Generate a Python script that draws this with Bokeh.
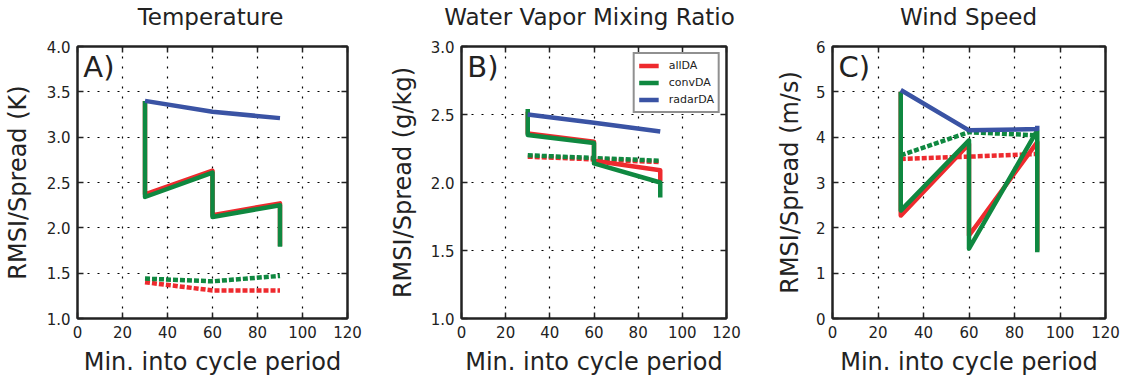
from bokeh.plotting import figure
from bokeh.layouts import row, column
from bokeh.models import (FixedTicker, PrintfTickFormatter, LinearAxis, Legend,
                          LegendItem, Range1d, Div)
from bokeh.embed import file_html
from bokeh.resources import INLINE

# ---------------- data ----------------
x_solid = [30, 30, 60, 60, 90, 90]
x_dot = [30, 60, 90]
x_ticks = [0, 20, 40, 60, 80, 100, 120]

temp_all = [3.40, 2.37, 2.63, 2.14, 2.27, 1.80]
temp_conv = [3.40, 2.34, 2.61, 2.12, 2.25, 1.79]
temp_radar = [3.40, 3.40, 3.28, 3.28, 3.21, 3.21]
temp_all_spread = [1.40, 1.31, 1.31]
temp_conv_spread = [1.44, 1.41, 1.47]
temp_yticks = [1.0, 1.5, 2.0, 2.5, 3.0, 3.5, 4.0]

qv_all = [2.52, 2.36, 2.30, 2.16, 2.09, 2.01]
qv_conv = [2.54, 2.35, 2.29, 2.14, 2.00, 1.89]
qv_radar = [2.50, 2.50, 2.44, 2.44, 2.375, 2.375]
qv_all_spread = [2.19, 2.17, 2.15]
qv_conv_spread = [2.20, 2.18, 2.16]
qv_yticks = [1.0, 1.5, 2.0, 2.5, 3.0]

ws_all = [5.00, 2.27, 3.85, 1.83, 3.89, 1.50]
ws_conv = [5.00, 2.38, 3.93, 1.54, 4.15, 1.46]
ws_radar = [5.04, 5.04, 4.15, 4.15, 4.18, 4.25]
ws_all_spread = [3.52, 3.57, 3.63]
ws_conv_spread = [3.60, 4.11, 4.04]
ws_yticks = [0, 1, 2, 3, 4, 5, 6]

series_names = ["allDA", "convDA", "radarDA"]

RED = "#ee2a2e"
GREEN = "#0f8840"
BLUE = "#3a53a4"
INK = "#222222"
FONT = "DejaVu Sans"
TITLE_H = 36
FRAME_W = 273


def style_axis(ax, ticks, fmt, show_labels=True):
    ax.ticker = FixedTicker(ticks=ticks)
    ax.formatter = PrintfTickFormatter(format=fmt)
    ax.axis_line_color = INK
    ax.axis_line_width = 2
    ax.major_tick_in = 6
    ax.major_tick_out = 0
    ax.major_tick_line_color = INK
    ax.major_tick_line_width = 1.5
    ax.minor_tick_line_color = None
    ax.major_label_text_font = FONT
    ax.major_label_text_color = INK
    ax.major_label_text_font_size = "15px"
    if show_labels:
        ax.major_label_standoff = 7
    else:
        ax.major_label_overrides = {t: "" for t in ticks}
        ax.major_label_standoff = 0


def title_strip(title, bl, width):
    shift = bl + FRAME_W / 2 - width / 2
    html = (
        f'<div style="position:relative; left:{shift:.1f}px; width:{width}px; '
        f"text-align:center; white-space:nowrap; font-family:'{FONT}'; "
        f'font-size:23px; line-height:35px; color:{INK};">{title}</div>'
    )
    return Div(text=html, width=width, height=TITLE_H, margin=0)


def panel(ylabel, ylim, yticks, yfmt, all_s, conv_s, radar_s,
          all_sp, conv_sp, letter, bl, br, width, ylab_standoff, legend=False):
    p = figure(width=width, height=379 - TITLE_H, output_backend="svg",
               toolbar_location=None, x_range=Range1d(0, 120),
               y_range=Range1d(*ylim), min_border_left=bl,
               min_border_right=br, min_border_top=46 - TITLE_H,
               min_border_bottom=61)
    p.outline_line_color = INK
    p.outline_line_width = 2
    p.background_fill_color = "white"
    p.border_fill_color = "white"

    style_axis(p.xaxis[0], x_ticks, "%d")
    style_axis(p.yaxis[0], yticks, yfmt)
    p.xaxis[0].axis_label = "Min. into cycle period"
    p.yaxis[0].axis_label = ylabel
    for ax in (p.xaxis[0], p.yaxis[0]):
        ax.axis_label_text_font = FONT
        ax.axis_label_text_font_size = "24px"
        ax.axis_label_text_font_style = "normal"
        ax.axis_label_text_color = INK
    p.xaxis[0].axis_label_standoff = 7
    p.yaxis[0].axis_label_standoff = ylab_standoff

    ra = LinearAxis()
    style_axis(ra, yticks, yfmt, show_labels=False)
    p.add_layout(ra, "right")
    ta = LinearAxis()
    style_axis(ta, x_ticks, "%d", show_labels=False)
    p.add_layout(ta, "above")

    for g in (p.xgrid[0], p.ygrid[0]):
        g.grid_line_color = "black"
        g.grid_line_dash = "2 8"
        g.grid_line_width = 1.2
    p.xgrid[0].ticker = FixedTicker(ticks=x_ticks)
    p.ygrid[0].ticker = FixedTicker(ticks=yticks)

    # spreads (dotted)
    p.line(x_dot, all_sp, line_color=RED, line_width=4.5, line_dash="5 2")
    p.line(x_dot, conv_sp, line_color=GREEN, line_width=4.5, line_dash="5 2")
    # RMSI (solid)
    r_all = p.line(x_solid, all_s, line_color=RED, line_width=4.5,
                   line_join="round")
    r_conv = p.line(x_solid, conv_s, line_color=GREEN, line_width=4.5,
                    line_join="round")
    r_radar = p.line(x_solid, radar_s, line_color=BLUE, line_width=4.5,
                     line_join="round")

    span = ylim[1] - ylim[0]
    p.text(x=[2.6], y=[ylim[1] - 0.012 * span], text=[letter],
           text_font_size="29px", text_baseline="top", text_align="left",
           text_color=INK, text_font={"value": FONT})

    if legend:
        items = [LegendItem(label=n, renderers=[r])
                 for n, r in zip(series_names, [r_all, r_conv, r_radar])]
        lg = Legend(items=items, location="top_right")
        lg.margin = 6
        lg.padding = 4
        lg.spacing = 2
        lg.glyph_width = 20
        lg.glyph_height = 15
        lg.label_height = 15
        lg.label_standoff = 10
        lg.label_text_font = FONT
        lg.label_text_font_size = "11px"
        lg.label_text_color = INK
        lg.border_line_color = INK
        lg.border_line_width = 2
        lg.background_fill_color = "white"
        lg.background_fill_alpha = 1
        p.add_layout(lg)
    return p


specs = [
    ("Temperature", 74, 38, 385),
    ("Water Vapor Mixing Ratio", 68, 36, 377),
    ("Wind Speed", 70, 26, 369),
]

pa = panel("RMSI/Spread (K)", (1.0, 4.0), temp_yticks, "%.1f",
           temp_all, temp_conv, temp_radar, temp_all_spread, temp_conv_spread,
           "A)", 74, 38, 385, 12)
pb = panel("RMSI/Spread (g/kg)", (1.0, 3.0),
           qv_yticks, "%.1f", qv_all, qv_conv, qv_radar, qv_all_spread,
           qv_conv_spread, "B)", 68, 36, 377, 11, legend=True)
pc = panel("RMSI/Spread (m/s)", (0, 6), ws_yticks, "%d",
           ws_all, ws_conv, ws_radar, ws_all_spread, ws_conv_spread,
           "C)", 70, 26, 369, 9)

cols = []
for (ttl, bl, br, w), pnl in zip(specs, [pa, pb, pc]):
    cols.append(column(title_strip(ttl, bl, w), pnl, spacing=0))

layout = row(*cols, spacing=0)
open("out.html", "w").write(file_html(layout, INLINE))
